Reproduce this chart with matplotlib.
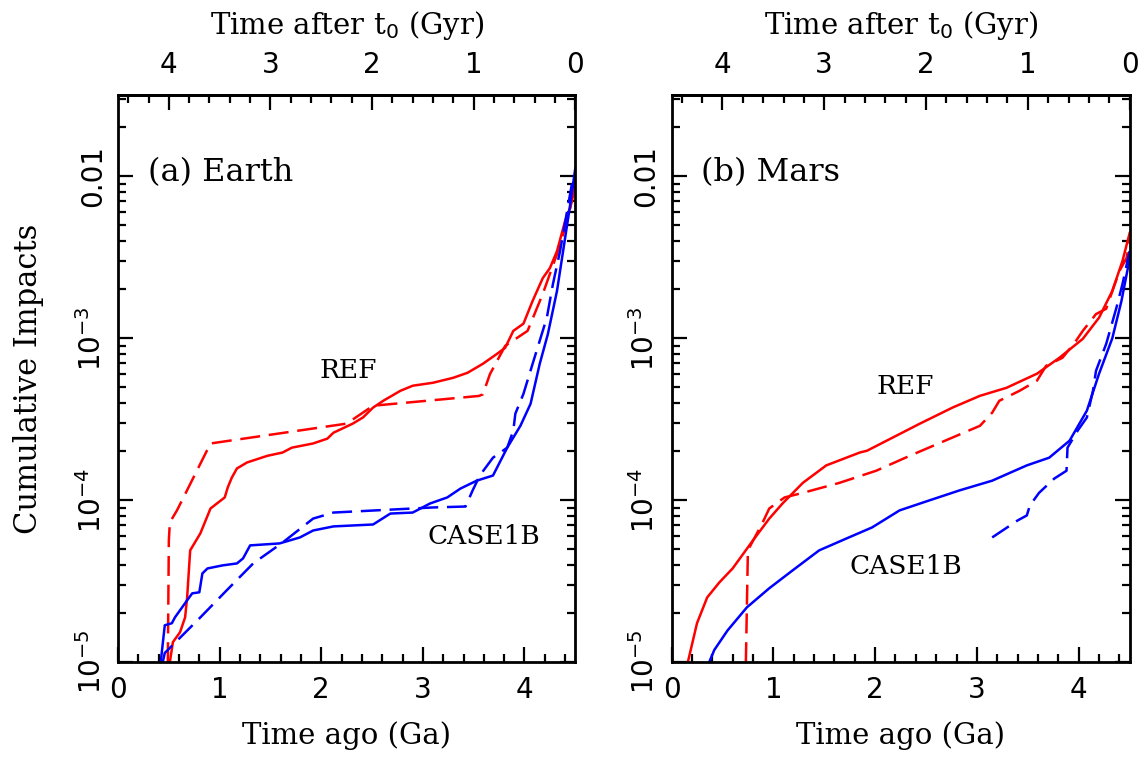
import numpy as np
import matplotlib
matplotlib.use('Agg')
import matplotlib.pyplot as plt
from matplotlib.ticker import FixedLocator, MultipleLocator, LogLocator, NullFormatter, FuncFormatter

# cumulative impacts vs time ago (Ga); REF = red, CASE1B = blue, solid / dashed runs
earth_ref_t = [0.51, 0.54, 0.61, 0.66, 0.68, 0.71, 0.81, 0.91, 1.05, 1.08, 1.12, 1.17, 1.27, 1.47,
               1.62, 1.71, 1.92, 2.06, 2.12, 2.31, 2.41, 2.51, 2.61, 2.78, 2.90, 3.10, 3.30, 3.44,
               3.59, 3.73, 3.81, 3.89, 3.99, 4.08, 4.18, 4.25, 4.32, 4.40, 4.45, 4.50]
earth_ref_n = [1.0e-5, 1.33e-5, 1.53e-5, 1.89e-5, 2.51e-5, 4.90e-5, 6.24e-5, 8.89e-5, 1.04e-4,
               1.20e-4, 1.38e-4, 1.57e-4, 1.71e-4, 1.88e-4, 1.97e-4, 2.11e-4, 2.24e-4, 2.40e-4,
               2.61e-4, 2.97e-4, 3.24e-4, 3.73e-4, 4.11e-4, 4.74e-4, 5.09e-4, 5.31e-4, 5.70e-4,
               6.12e-4, 6.95e-4, 8.01e-4, 8.73e-4, 1.11e-3, 1.23e-3, 1.70e-3, 2.35e-3, 2.71e-3,
               3.45e-3, 5.3e-3, 6.4e-3, 9.6e-3]
earth_ref2_t = [0.49, 0.50, 0.51, 0.58, 0.91, 2.25, 2.51, 3.55, 3.59, 3.66, 3.81, 4.03, 4.08,
                4.18, 4.32, 4.42, 4.50]
earth_ref2_n = [1.0e-5, 5.65e-5, 7.3e-5, 8.65e-5, 2.24e-4, 2.97e-4, 3.83e-4, 4.40e-4, 4.5e-4,
                6.0e-4, 8.97e-4, 1.11e-3, 1.32e-3, 1.88e-3, 3.31e-3, 5.28e-3, 8.7e-3]
earth_case_t = [0.42, 0.46, 0.53, 0.56, 0.68, 0.73, 0.80, 0.83, 0.88, 1.03, 1.17, 1.23, 1.30,
                1.59, 1.79, 1.92, 2.12, 2.51, 2.68, 2.90, 3.07, 3.24, 3.37, 3.53, 3.69, 3.83,
                3.96, 4.06, 4.15, 4.23, 4.32, 4.38, 4.45, 4.50]
earth_case_n = [1.0e-5, 1.69e-5, 1.74e-5, 1.89e-5, 2.41e-5, 2.66e-5, 2.70e-5, 3.53e-5, 3.79e-5,
                3.96e-5, 4.07e-5, 4.37e-5, 5.26e-5, 5.41e-5, 5.89e-5, 6.50e-5, 6.89e-5, 7.08e-5,
                8.27e-5, 8.39e-5, 9.54e-5, 1.04e-4, 1.18e-4, 1.32e-4, 1.42e-4, 2.11e-4, 2.88e-4,
                3.94e-4, 6.95e-4, 1.06e-3, 1.96e-3, 3.45e-3, 6.7e-3, 1.12e-2]
earth_case2_t = [0.44, 0.46, 0.81, 1.07, 1.33, 1.62, 1.92, 2.12, 3.10, 3.42, 3.49, 3.56, 3.69,
                 3.83, 3.89, 3.91, 3.99, 4.08, 4.22, 4.28, 4.35, 4.48]
earth_case2_n = [1.0e-5, 1.14e-5, 1.89e-5, 2.78e-5, 4.07e-5, 5.48e-5, 7.70e-5, 8.39e-5, 9.02e-5,
                 9.14e-5, 1.15e-4, 1.42e-4, 1.83e-4, 2.11e-4, 2.69e-4, 3.42e-4, 4.54e-4, 6.95e-4,
                 1.34e-3, 2.16e-3, 3.45e-3, 1.0e-2]

mars_ref_t = [0.16, 0.25, 0.35, 0.47, 0.60, 0.80, 0.96, 1.09, 1.29, 1.52, 1.85, 1.92, 2.44, 2.76,
              3.03, 3.29, 3.59, 3.81, 4.04, 4.20, 4.33, 4.43, 4.50]
mars_ref_n = [1.0e-5, 1.74e-5, 2.51e-5, 3.11e-5, 3.79e-5, 5.65e-5, 7.70e-5, 9.54e-5, 1.28e-4,
              1.64e-4, 1.97e-4, 2.02e-4, 2.97e-4, 3.73e-4, 4.41e-4, 4.94e-4, 6.04e-4, 7.57e-4,
              9.91e-4, 1.34e-3, 1.96e-3, 3.00e-3, 4.45e-3]
mars_ref2_t = [0.73, 0.75, 0.89, 0.96, 1.11, 1.29, 1.65, 2.01, 2.34, 3.03, 3.15, 3.22, 3.42,
               3.59, 3.68, 3.84, 3.96, 4.04, 4.17, 4.27, 4.40, 4.47, 4.50]
mars_ref2_n = [1.0e-5, 4.90e-5, 7.18e-5, 8.89e-5, 1.04e-4, 1.11e-4, 1.28e-4, 1.52e-4, 1.88e-4,
               2.88e-4, 3.47e-4, 4.11e-4, 4.74e-4, 5.47e-4, 6.76e-4, 7.57e-4, 9.37e-4, 1.11e-3,
               1.41e-3, 1.52e-3, 2.60e-3, 3.13e-3, 3.98e-3]
mars_case_t = [0.37, 0.42, 0.55, 0.74, 0.96, 1.19, 1.45, 1.72, 1.97, 2.24, 2.53, 2.83, 3.15,
               3.49, 3.71, 3.91, 4.08, 4.20, 4.33, 4.42, 4.50]
mars_case_n = [1.0e-5, 1.19e-5, 1.57e-5, 2.18e-5, 2.86e-5, 3.69e-5, 4.90e-5, 5.81e-5, 6.79e-5,
               8.65e-5, 9.96e-5, 1.15e-4, 1.32e-4, 1.64e-4, 1.83e-4, 2.33e-4, 3.57e-4, 6.04e-4,
               1.00e-3, 1.70e-3, 3.08e-3]
mars_case2_t = [3.15, 3.40, 3.49, 3.52, 3.61, 3.76, 3.88, 3.89, 3.99, 4.08, 4.14, 4.17, 4.27,
                4.37, 4.43, 4.50]
mars_case2_n = [5.89e-5, 7.50e-5, 8.05e-5, 9.27e-5, 1.11e-4, 1.36e-4, 1.52e-4, 2.11e-4, 2.69e-4,
                3.24e-4, 4.74e-4, 6.30e-4, 9.23e-4, 1.54e-3, 2.16e-3, 3.45e-3]

t0 = 4.5
serif = 'DejaVu Serif'
plt.rcParams['font.family'] = 'DejaVu Sans'
plt.rcParams['mathtext.fontset'] = 'dejavusans'

fig = plt.figure(figsize=(11.46, 7.62), dpi=100)
ax1 = fig.add_axes([0.103, 0.131, 0.399, 0.744])
ax2 = fig.add_axes([0.586, 0.131, 0.3997, 0.744])

dash = (0, (8, 3.5))
lw = 1.8


def ylab(v, pos):
    e = int(round(np.log10(v)))
    if e == -2:
        return '0.01'
    return r'$10^{%d}$' % e


def setup(ax):
    ax.set_yscale('log')
    ax.set_xlim(0, t0)
    ax.set_ylim(1e-5, 10**-1.5)
    for s in ax.spines.values():
        s.set_linewidth(2)
    ax.xaxis.set_major_locator(MultipleLocator(1))
    ax.xaxis.set_minor_locator(MultipleLocator(0.2))
    ax.yaxis.set_major_locator(LogLocator(10))
    ax.yaxis.set_minor_locator(LogLocator(10, subs=np.arange(2, 10)))
    ax.yaxis.set_minor_formatter(NullFormatter())
    ax.yaxis.set_major_formatter(FuncFormatter(ylab))
    ax.tick_params(which='both', direction='in', right=True, top=False, width=1.6)
    ax.tick_params(which='major', length=11, labelsize=20)
    ax.tick_params(which='minor', length=6)
    ax.tick_params(axis='x', pad=10)
    ax.tick_params(axis='y', pad=8)
    for lab in ax.get_yticklabels():
        lab.set_rotation(90)
        lab.set_va('center')
    ax.set_xlabel('Time ago (Ga)', family=serif, fontsize=21, labelpad=12)

    top = ax.secondary_xaxis('top', functions=(lambda x: t0 - x, lambda x: t0 - x))
    top.spines['top'].set_linewidth(2)
    top.xaxis.set_major_locator(FixedLocator([0, 1, 2, 3, 4]))
    top.xaxis.set_minor_locator(FixedLocator(np.arange(0, 4.61, 0.2)))
    top.tick_params(which='both', direction='in', width=1.6)
    top.tick_params(which='major', length=11, labelsize=20, pad=12)
    top.tick_params(which='minor', length=6)
    top.set_xlabel(r'Time after t$_0$ (Gyr)', family=serif, fontsize=21, labelpad=12)


setup(ax1)
setup(ax2)

ax1.plot(earth_ref_t, earth_ref_n, color='red', lw=lw)
ax1.plot(earth_ref2_t, earth_ref2_n, color='red', lw=lw, ls=dash)
ax1.plot(earth_case_t, earth_case_n, color='blue', lw=lw)
ax1.plot(earth_case2_t, earth_case2_n, color='blue', lw=lw, ls=dash)
ax1.text(0.29, 1.05e-2, '(a) Earth', family=serif, fontsize=23, va='center')
ax1.text(2.27, 6.3e-4, 'REF', family=serif, fontsize=19, ha='center', va='center')
ax1.text(3.6, 6.0e-5, 'CASE1B', family=serif, fontsize=19, ha='center', va='center')
ax1.set_ylabel('Cumulative Impacts', family=serif, fontsize=22, labelpad=24)

ax2.plot(mars_ref_t, mars_ref_n, color='red', lw=lw)
ax2.plot(mars_ref2_t, mars_ref2_n, color='red', lw=lw, ls=dash)
ax2.plot(mars_case_t, mars_case_n, color='blue', lw=lw)
ax2.plot(mars_case2_t, mars_case2_n, color='blue', lw=lw, ls=dash)
ax2.text(0.29, 1.05e-2, '(b) Mars', family=serif, fontsize=23, va='center')
ax2.text(2.3, 5.0e-4, 'REF', family=serif, fontsize=19, ha='center', va='center')
ax2.text(2.3, 3.9e-5, 'CASE1B', family=serif, fontsize=19, ha='center', va='center')

fig.savefig('out.png', dpi=100)
